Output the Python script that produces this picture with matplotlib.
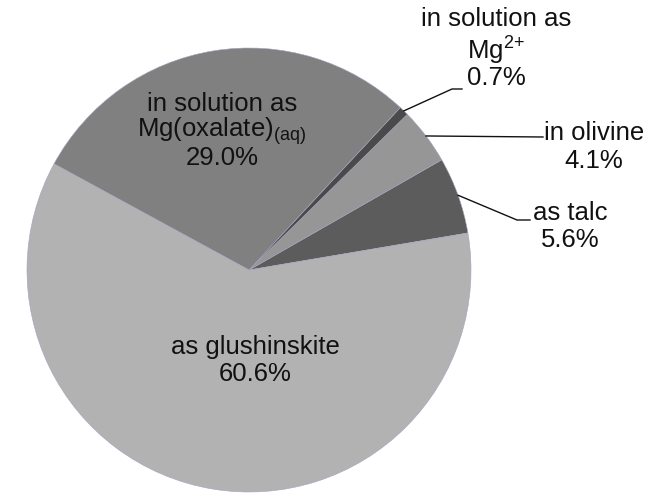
import matplotlib.pyplot as plt
import numpy as np

plt.rcParams['font.family'] = ['Liberation Sans', 'DejaVu Sans']
plt.rcParams['mathtext.default'] = 'regular'

# data (wedges drawn counterclockwise starting at the talc slice)
names = ['as talc', 'in olivine', 'in solution as Mg2+',
         'in solution as Mg(oxalate)(aq)', 'as glushinskite']
shares = [5.6, 4.1, 0.7, 29.0, 60.6]
colors = ['#5c5c5c', '#969696', '#4a4a4a', '#808080', '#b2b2b2']

fig = plt.figure(figsize=(6.51, 4.94), dpi=100)
# pie centre at (249, 270) px, radius 222 px
ax = fig.add_axes([27 / 651, 2 / 494, 444 / 651, 444 / 494])
start = 9.6
wedges, _ = ax.pie(shares, colors=colors, startangle=start, counterclock=True,
                   radius=1, wedgeprops=dict(edgecolor='#a6a2bf', linewidth=0.4))
ax.set_xlim(-1, 1)
ax.set_ylim(-1, 1)
ax.set_aspect('equal')
ax.axis('off')


def px(x, y):
    # pixel position in the image -> data coords of the pie axes
    return (x - 249) / 222, (270 - y) / 222


fs = 18.5
tc = '#111111'


def lines(x, ys, texts):
    for y, t in zip(ys, texts):
        ax.text(*px(x, y), t, ha='center', va='center', fontsize=fs, color=tc)


# inside labels
lines(222, [104, 131, 158], ['in solution as', 'Mg(oxalate)$_{(aq)}$', '29.0%'])
lines(255, [347, 374], ['as glushinskite', '60.6%'])

# outside labels
lines(496, [19, 51, 78], ['in solution as', 'Mg$^{2{+}}$', '0.7%'])
lines(594, [133, 161], ['in olivine', '4.1%'])
lines(570, [213, 240], ['as talc', '5.6%'])

# leader lines from each small wedge's mid angle on the rim
mids = {}
for w in wedges:
    mids[len(mids)] = np.deg2rad((w.theta1 + w.theta2) / 2)


def leader(i, pts):
    a = mids[i]
    xs = [np.cos(a)] + [px(*p)[0] for p in pts]
    ys = [np.sin(a)] + [px(*p)[1] for p in pts]
    ax.plot(xs, ys, color='#111111', lw=1, clip_on=False)


leader(0, [(517, 220), (530, 220)])
leader(1, [(543, 137)])
leader(2, [(452, 89), (462, 89)])

fig.savefig('out.png', dpi=100)
